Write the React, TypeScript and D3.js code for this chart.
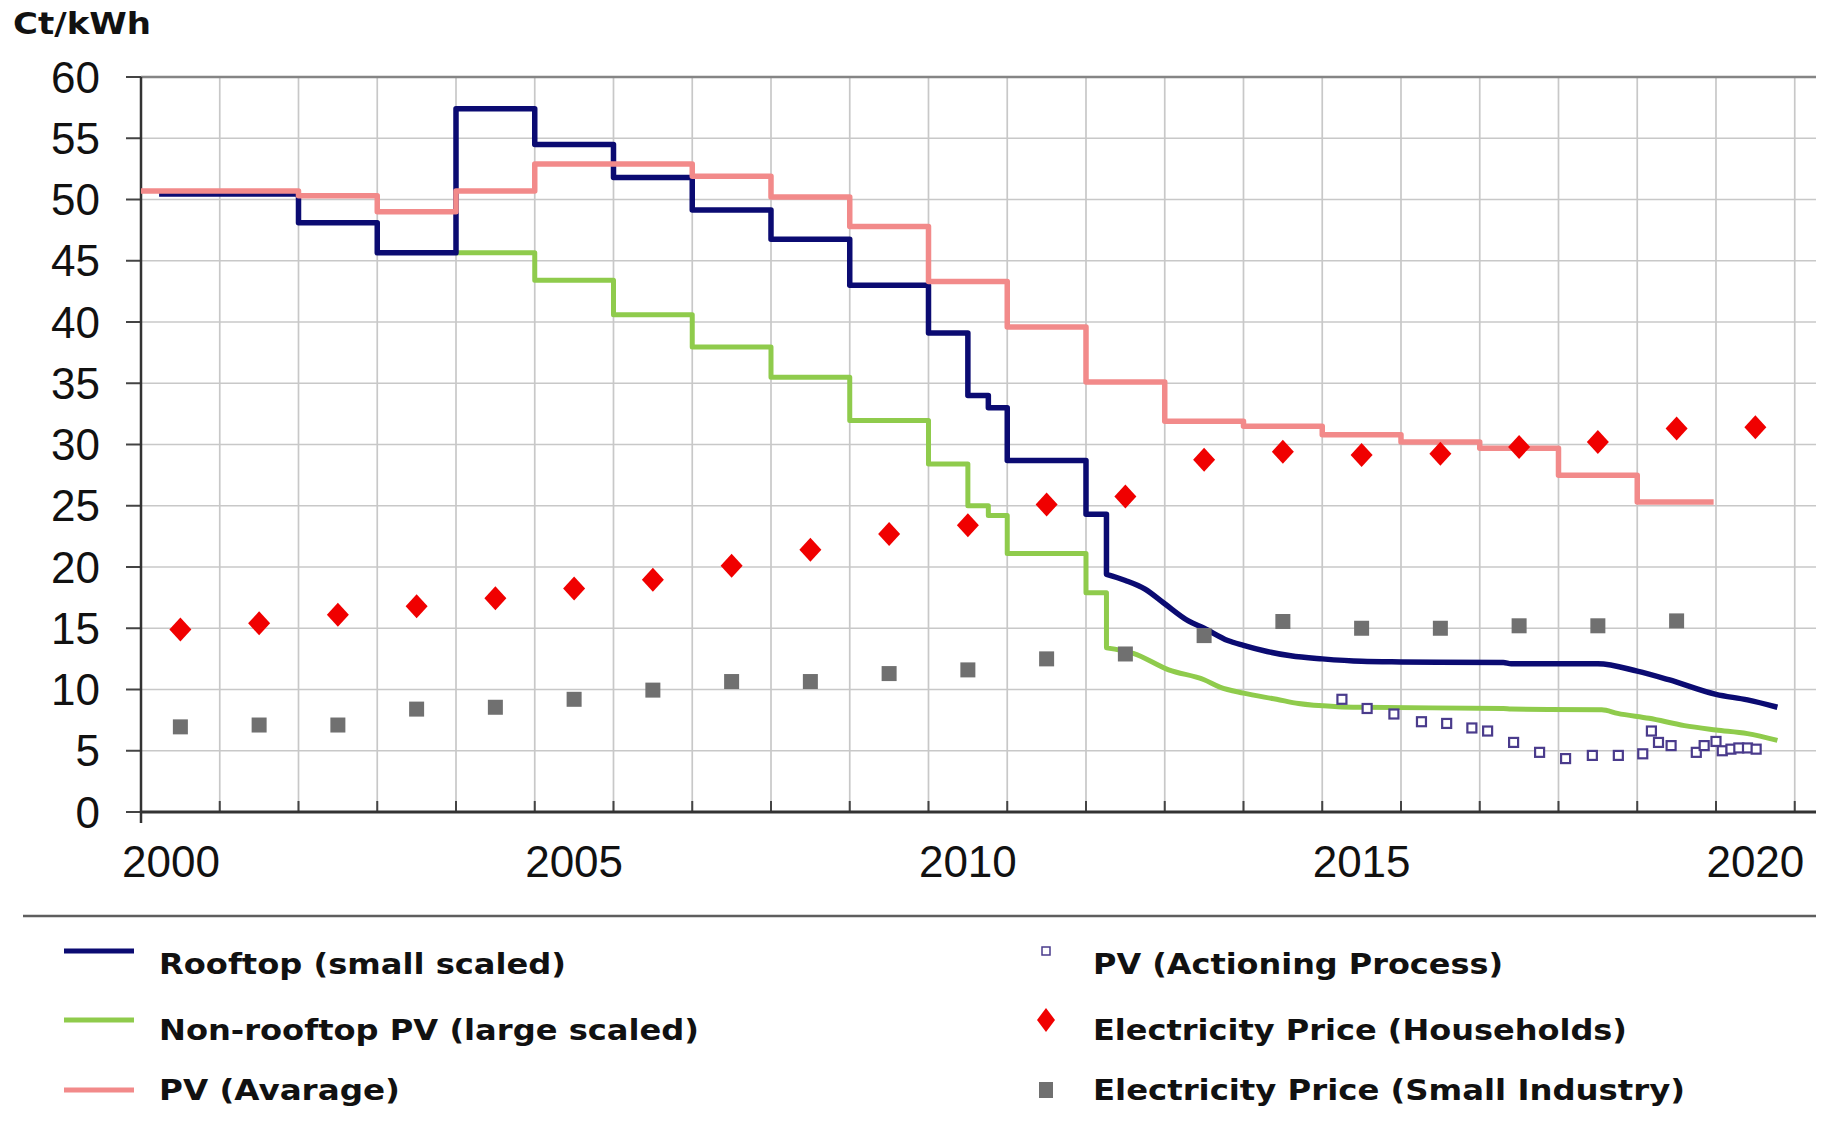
import React, { useEffect } from "react";
import * as d3 from "d3";

// ---- data ----
const yTicks = [0, 5, 10, 15, 20, 25, 30, 35, 40, 45, 50, 55, 60];
const xLabelYears = [2000, 2005, 2010, 2015, 2020];
const gridYears = [2001, 2002, 2003, 2004, 2005, 2006, 2007, 2008, 2009, 2010, 2011, 2012, 2013, 2014, 2015, 2016, 2017, 2018, 2019, 2020, 2021];

// Rooftop (small scaled): step part then smooth part
const rooftopStepT = [2000.23, 2002, 2003, 2004, 2005, 2006, 2007, 2008, 2009, 2010, 2010.5, 2010.76, 2011, 2012, 2012.26];
const rooftopStepV = [50.45, 48.1, 45.65, 57.4, 54.5, 51.8, 49.15, 46.75, 43.0, 39.1, 34.0, 33.0, 28.7, 24.3, 19.4];
const rooftopCurveT = [2012.26, 2012.5, 2012.75, 2013.0, 2013.3, 2013.5, 2013.8, 2014.0, 2014.3, 2014.6, 2015.0, 2015.5, 2016.0, 2017.3, 2017.4, 2018.5, 2019.0, 2019.4, 2020.0, 2020.4, 2020.78];
const rooftopCurveV = [19.4, 18.9, 18.2, 17.0, 15.6, 15.0, 14.0, 13.6, 13.1, 12.75, 12.5, 12.3, 12.25, 12.2, 12.1, 12.1, 11.5, 10.8, 9.6, 9.15, 8.55];

// Non-rooftop PV (large scaled)
const groundStepT = [2004, 2005, 2006, 2007, 2008, 2009, 2010, 2010.5, 2010.76, 2011, 2012, 2012.26];
const groundStepV = [45.65, 43.4, 40.6, 37.95, 35.5, 31.95, 28.4, 25.0, 24.2, 21.1, 17.9, 13.4];
const groundCurveT = [2012.26, 2012.6, 2013.05, 2013.5, 2013.7, 2014.0, 2014.42, 2014.7, 2015.2, 2015.5, 2017.3, 2017.4, 2018.55, 2018.75, 2019.15, 2019.6, 2020.0, 2020.4, 2020.78];
const groundCurveV = [13.4, 12.95, 11.6, 10.8, 10.2, 9.7, 9.2, 8.85, 8.6, 8.55, 8.45, 8.4, 8.35, 8.05, 7.65, 7.05, 6.7, 6.4, 5.85];

// PV (Avarage)
const averageT = [2000, 2002, 2003, 2004, 2005, 2007, 2008, 2009, 2010, 2011, 2012, 2013, 2014, 2015, 2016, 2017, 2018, 2019, 2019.97];
const averageV = [50.7, 50.3, 49.0, 50.7, 52.9, 51.9, 50.2, 47.8, 43.3, 39.6, 35.1, 31.9, 31.5, 30.8, 30.2, 29.7, 27.5, 25.3, 25.3];

// PV (Actioning Process)
const auctionT = [2015.25, 2015.57, 2015.91, 2016.26, 2016.58, 2016.9, 2017.1, 2017.43, 2017.76, 2018.09, 2018.43, 2018.76, 2019.07, 2019.18, 2019.27, 2019.43, 2019.75, 2019.85, 2020.0, 2020.08, 2020.19, 2020.29, 2020.4, 2020.51];
const auctionV = [9.2, 8.45, 8.0, 7.37, 7.23, 6.86, 6.61, 5.68, 4.87, 4.36, 4.62, 4.62, 4.75, 6.61, 5.68, 5.42, 4.87, 5.42, 5.76, 5.0, 5.13, 5.23, 5.23, 5.13];

// Electricity Price (Households)
const householdYears = [2000, 2001, 2002, 2003, 2004, 2005, 2006, 2007, 2008, 2009, 2010, 2011, 2012, 2013, 2014, 2015, 2016, 2017, 2018, 2019, 2020];
const householdV = [14.9, 15.4, 16.1, 16.8, 17.45, 18.25, 18.95, 20.1, 21.4, 22.7, 23.4, 25.1, 25.75, 28.75, 29.4, 29.15, 29.25, 29.8, 30.2, 31.3, 31.4];

// Electricity Price (Small Industry)
const industryYears = [2000, 2001, 2002, 2003, 2004, 2005, 2006, 2007, 2008, 2009, 2010, 2011, 2012, 2013, 2014, 2015, 2016, 2017, 2018, 2019];
const industryV = [6.95, 7.1, 7.1, 8.4, 8.55, 9.2, 9.95, 10.65, 10.65, 11.3, 11.6, 12.5, 12.9, 14.4, 15.55, 15.0, 15.0, 15.2, 15.2, 15.6];

const legendLeft = ["Rooftop (small scaled)", "Non-rooftop PV (large scaled)", "PV (Avarage)"];
const legendRight = ["PV (Actioning Process)", "Electricity Price (Households)", "Electricity Price (Small Industry)"];

// ---- styles ----
const C_NAVY = "#0b0b72";
const C_GREEN = "#8fcb4c";
const C_PINK = "#f28a8a";
const C_RED = "#f00000";
const C_GRAY = "#707070";
const C_PURPLE = "#4a3b8c";
const TICK_FONT = "'Liberation Sans', Arial, sans-serif";
const BOLD_FONT = "'DejaVu Sans', Verdana, sans-serif";

export default function App() {
  useEffect(() => {
    document.body.style.margin = "0";
    document.body.style.overflow = "hidden";
  }, []);

  const W = 1824, H = 1121;
  const x = d3.scaleLinear().domain([2000, 2021.27]).range([141, 1816]);
  const y = d3.scaleLinear().domain([0, 60]).range([812, 77]);

  const step = d3.line<[number, number]>().x(d => x(d[0])).y(d => y(d[1])).curve(d3.curveStepAfter);
  const smooth = d3.line<[number, number]>().x(d => x(d[0])).y(d => y(d[1])).curve(d3.curveMonotoneX);
  const zip = (t: number[], v: number[]) => t.map((tt, i) => [tt, v[i]] as [number, number]);

  const rooftopPath = (step(zip(rooftopStepT, rooftopStepV)) || "") + (smooth(zip(rooftopCurveT, rooftopCurveV)) || "").replace(/^M/, "L");
  const groundPath = (step(zip(groundStepT, groundStepV)) || "") + (smooth(zip(groundCurveT, groundCurveV)) || "").replace(/^M/, "L");
  const averagePath = step(zip(averageT, averageV)) || "";

  const x0 = x.range()[0], x1 = x.range()[1];
  const yTop = y(60), yBot = y(0);

  const diamond = (cx: number, cy: number, hw: number, hh: number) =>
    `M${cx},${cy - hh}L${cx + hw},${cy}L${cx},${cy + hh}L${cx - hw},${cy}Z`;

  const legendRows = [963, 1029, 1089];
  const legendMarkY = [951, 1020, 1090];
  const leftWidths = [407, 540, 241];
  const rightWidths = [410, 534, 592];

  return (
    <svg width={W} height={H} style={{ position: "absolute", left: 0, top: 0, background: "#fff" }}>
      <rect x={0} y={0} width={W} height={H} fill="#fff" />
      {/* title */}
      <text x={13} y={34} fontFamily={BOLD_FONT} fontWeight="bold" fontSize={30} textLength={138} lengthAdjust="spacingAndGlyphs" fill="#111">Ct/kWh</text>

      {/* grid */}
      {yTicks.filter(v => v > 0 && v < 60).map(v => (
        <line key={"gy" + v} x1={x0} x2={x1} y1={y(v)} y2={y(v)} stroke="#c8c8c8" strokeWidth={1.7} />
      ))}
      {gridYears.map(t => (
        <line key={"gx" + t} x1={x(t)} x2={x(t)} y1={yTop} y2={yBot} stroke="#c8c8c8" strokeWidth={1.7} />
      ))}
      <line x1={x0} x2={x1} y1={yTop} y2={yTop} stroke="#858585" strokeWidth={2.5} />
      {/* x inner ticks */}
      {gridYears.map(t => (
        <line key={"tx" + t} x1={x(t)} x2={x(t)} y1={yBot - 11} y2={yBot} stroke="#444" strokeWidth={2} />
      ))}
      {/* y ticks */}
      {yTicks.map(v => (
        <line key={"ty" + v} x1={126} x2={x0} y1={y(v)} y2={y(v)} stroke="#444" strokeWidth={2} />
      ))}
      {/* axes */}
      <line x1={x0} x2={x0} y1={yTop} y2={yBot + 11} stroke="#333" strokeWidth={2.5} />
      <line x1={x0} x2={x1} y1={yBot} y2={yBot} stroke="#333" strokeWidth={3} />

      {/* y labels */}
      {yTicks.map(v => (
        <text key={"ly" + v} x={100} y={y(v) + 15.5} textAnchor="end" fontFamily={TICK_FONT} fontSize={44} fill="#111">{v}</text>
      ))}
      {/* x labels (first one kept inside the left margin) */}
      {xLabelYears.map(t => (
        <text key={"lx" + t} x={Math.min(x(t + 0.5), x0 + 30 + (t - 2000) * 1000)} y={877} textAnchor="middle" fontFamily={TICK_FONT} fontSize={44} fill="#111">{t}</text>
      ))}

      {/* series lines */}
      <path d={groundPath} fill="none" stroke={C_GREEN} strokeWidth={5} strokeLinejoin="round" />
      <path d={rooftopPath} fill="none" stroke={C_NAVY} strokeWidth={5.5} strokeLinejoin="round" />
      <path d={averagePath} fill="none" stroke={C_PINK} strokeWidth={5.5} strokeLinejoin="round" />

      {/* industry squares */}
      {industryYears.map((t, i) => (
        <rect key={"sq" + t} x={x(t + 0.5) - 7.5} y={y(industryV[i]) - 7.5} width={15} height={15} fill={C_GRAY} />
      ))}
      {/* household diamonds */}
      {householdYears.map((t, i) => (
        <path key={"dm" + t} d={diamond(x(t + 0.5), y(householdV[i]), 11, 12)} fill={C_RED} />
      ))}
      {/* auction open squares */}
      {auctionT.map((t, i) => (
        <rect key={"au" + i} x={x(t) - 4.5} y={y(auctionV[i]) - 4.5} width={9} height={9} fill="#fff" stroke={C_PURPLE} strokeWidth={2.2} />
      ))}

      {/* separator */}
      <line x1={23} x2={1816} y1={916} y2={916} stroke="#5e5e5e" strokeWidth={2.5} />

      {/* legend left */}
      {legendLeft.map((label, i) => (
        <g key={"ll" + i}>
          <line x1={64} x2={134} y1={legendMarkY[i]} y2={legendMarkY[i]} stroke={[C_NAVY, C_GREEN, C_PINK][i]} strokeWidth={5} />
          <text x={159} y={legendRows[i] + 10.5} fontFamily={BOLD_FONT} fontWeight="bold" fontSize={29} textLength={leftWidths[i]} lengthAdjust="spacingAndGlyphs" fill="#111">{label}</text>
        </g>
      ))}
      {/* legend right */}
      <rect x={1042} y={legendMarkY[0] - 4} width={8} height={8} fill="#fff" stroke={C_PURPLE} strokeWidth={1.5} />
      <path d={diamond(1046, legendMarkY[1], 9, 12)} fill={C_RED} />
      <rect x={1039} y={legendMarkY[2] - 8} width={14} height={16} fill={C_GRAY} />
      {legendRight.map((label, i) => (
        <text key={"lr" + i} x={1093} y={legendRows[i] + 10.5} fontFamily={BOLD_FONT} fontWeight="bold" fontSize={29} textLength={rightWidths[i]} lengthAdjust="spacingAndGlyphs" fill="#111">{label}</text>
      ))}
    </svg>
  );
}
